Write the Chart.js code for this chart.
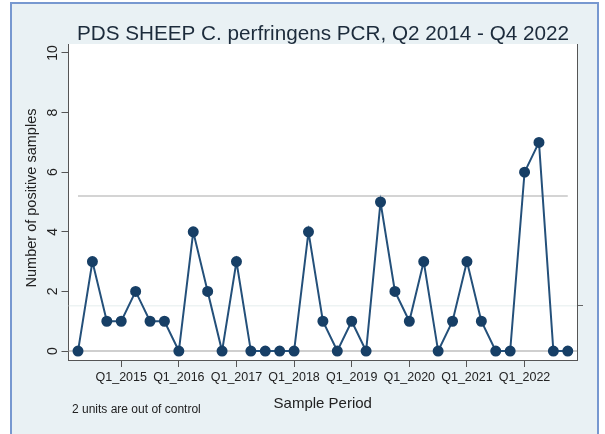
<!DOCTYPE html>
<html>
<head>
<meta charset="utf-8">
<script src="https://cdn.jsdelivr.net/npm/chart.js@4.4.1/dist/chart.umd.min.js"></script>
<style>
  body { margin: 0; background: #fff; }
  canvas { display: block; }
</style>
</head>
<body>
<canvas id="myGraph" width="605" height="434"></canvas>
<script>
const graph = document.getElementById('myGraph');

// quarters Q2 2014 .. Q4 2022
const quarters = [
  'Q2_2014', 'Q3_2014', 'Q4_2014',
  'Q1_2015', 'Q2_2015', 'Q3_2015', 'Q4_2015',
  'Q1_2016', 'Q2_2016', 'Q3_2016', 'Q4_2016',
  'Q1_2017', 'Q2_2017', 'Q3_2017', 'Q4_2017',
  'Q1_2018', 'Q2_2018', 'Q3_2018', 'Q4_2018',
  'Q1_2019', 'Q2_2019', 'Q3_2019', 'Q4_2019',
  'Q1_2020', 'Q2_2020', 'Q3_2020', 'Q4_2020',
  'Q1_2021', 'Q2_2021', 'Q3_2021', 'Q4_2021',
  'Q1_2022', 'Q2_2022', 'Q3_2022', 'Q4_2022'
];
const positives = [0, 3, 1, 1, 2, 1, 1, 0, 4, 2, 0, 3, 0, 0, 0, 0, 4, 1, 0, 1, 0, 5, 2, 1, 3, 0, 1, 3, 1, 0, 0, 6, 7, 0, 0];

const tickPositions = [3, 7, 11, 15, 19, 23, 27, 31];
const tickLabels = ['Q1_2015', 'Q1_2016', 'Q1_2017', 'Q1_2018', 'Q1_2019', 'Q1_2020', 'Q1_2021', 'Q1_2022'];
const yTicks = [0, 2, 4, 6, 8, 10];

const upperLimit = 5.2;
const lowerLimit = 1.52;
const centreLine = 0;

const FONT = "'Liberation Sans', Arial, sans-serif";
const xMin = -0.66, xMax = 34.64;

const points = positives.map((v, i) => ({ x: i, y: v }));

const backdrop = {
  id: 'backdrop',
  beforeDraw(chart) {
    const ctx = chart.ctx;
    const a = chart.chartArea;
    ctx.save();
    ctx.fillStyle = '#ffffff';
    ctx.fillRect(0, 0, chart.width, chart.height);
    ctx.fillStyle = '#e9f1f4';
    ctx.fillRect(11, 3, 587, chart.height);
    ctx.strokeStyle = '#7798d0';
    ctx.lineWidth = 2;
    ctx.beginPath();
    ctx.moveTo(11, chart.height);
    ctx.lineTo(11, 3);
    ctx.lineTo(598, 3);
    ctx.lineTo(598, chart.height);
    ctx.stroke();
    ctx.fillStyle = '#ffffff';
    ctx.fillRect(a.left, a.top, a.right - a.left, a.bottom - a.top);
    ctx.restore();
  },
  afterDraw(chart) {
    const ctx = chart.ctx;
    const y = chart.scales.y;
    const a = chart.chartArea;
    ctx.save();
    // title
    ctx.fillStyle = '#1c2b3b';
    ctx.font = '20.7px ' + FONT;
    ctx.textAlign = 'center';
    ctx.textBaseline = 'alphabetic';
    ctx.fillText('PDS SHEEP C. perfringens PCR, Q2 2014 - Q4 2022', 323, 40);
    // y tick labels, rotated
    ctx.fillStyle = '#222';
    ctx.font = '14px ' + FONT;
    ctx.textBaseline = 'middle';
    yTicks.forEach(v => {
      const py = y.getPixelForValue(v);
      ctx.save();
      ctx.translate(53, py);
      ctx.rotate(-Math.PI / 2);
      ctx.fillText(String(v), 0, 0);
      ctx.restore();
    });
    // y title
    ctx.font = '14.5px ' + FONT;
    ctx.save();
    ctx.translate(32, (a.top + a.bottom) / 2 - 4);
    ctx.rotate(-Math.PI / 2);
    ctx.fillText('Number of positive samples', 0, 0);
    ctx.restore();
    // x title
    ctx.font = '15px ' + FONT;
    ctx.fillText('Sample Period', (a.left + a.right) / 2, 404);
    // note
    ctx.font = '12px ' + FONT;
    ctx.textAlign = 'left';
    ctx.fillText('2 units are out of control', 72, 410);
    ctx.restore();
  }
};

new Chart(graph, {
  type: 'line',
  data: {
    datasets: [
      {
        label: 'Positive samples',
        data: points,
        borderColor: '#24507a',
        borderWidth: 2,
        pointBackgroundColor: '#173f66',
        pointBorderColor: '#173f66',
        pointRadius: 4.5,
        order: 0
      },
      {
        label: 'Upper limit',
        data: [{ x: 0, y: upperLimit }, { x: positives.length - 1, y: upperLimit }],
        borderColor: '#c6c6c6',
        borderWidth: 1.5,
        pointRadius: 0,
        order: 1
      },
      {
        label: 'Centre',
        data: [{ x: xMin, y: centreLine }, { x: xMax, y: centreLine }],
        borderColor: '#cfcfcf',
        borderWidth: 2,
        pointRadius: 0,
        order: 2
      },
      {
        label: 'Lower',
        data: [{ x: xMin, y: lowerLimit }, { x: xMax, y: lowerLimit }],
        borderColor: '#edf3f3',
        borderWidth: 1.5,
        pointRadius: 0,
        order: 3
      }
    ]
  },
  options: {
    responsive: false,
    animation: false,
    layout: { padding: { top: 44, left: 0, right: 0, bottom: 0 } },
    plugins: {
      legend: { display: false },
      tooltip: { enabled: false }
    },
    scales: {
      x: {
        type: 'linear',
        min: xMin,
        max: xMax,
        afterBuildTicks: s => { s.ticks = tickPositions.map(v => ({ value: v })); },
        afterFit: s => { s.height = 74; },
        border: { display: true, color: '#555', width: 1 },
        grid: { drawOnChartArea: false, drawTicks: true, tickLength: 7, color: '#555' },
        ticks: {
          autoSkip: false,
          maxRotation: 0,
          minRotation: 0,
          padding: 3,
          color: '#222',
          font: { family: FONT, size: 12.5 },
          callback: (v, i) => tickLabels[i]
        }
      },
      y: {
        type: 'linear',
        position: 'left',
        min: -0.3,
        max: 10.3,
        afterBuildTicks: s => { s.ticks = yTicks.map(v => ({ value: v })); },
        afterFit: s => { s.width = 68.5; },
        border: { display: true, color: '#555', width: 1 },
        grid: { drawOnChartArea: false, drawTicks: true, tickLength: 7, color: '#555' },
        ticks: { display: false }
      },
      y2: {
        type: 'linear',
        position: 'right',
        min: -0.3,
        max: 10.3,
        afterBuildTicks: s => { s.ticks = [{ value: lowerLimit }]; },
        afterFit: s => { s.width = 28; },
        border: { display: true, color: '#555', width: 1 },
        grid: { drawOnChartArea: false, drawTicks: true, tickLength: 6, color: '#666' },
        ticks: { display: false }
      }
    }
  },
  plugins: [backdrop]
});
</script>
</body>
</html>
